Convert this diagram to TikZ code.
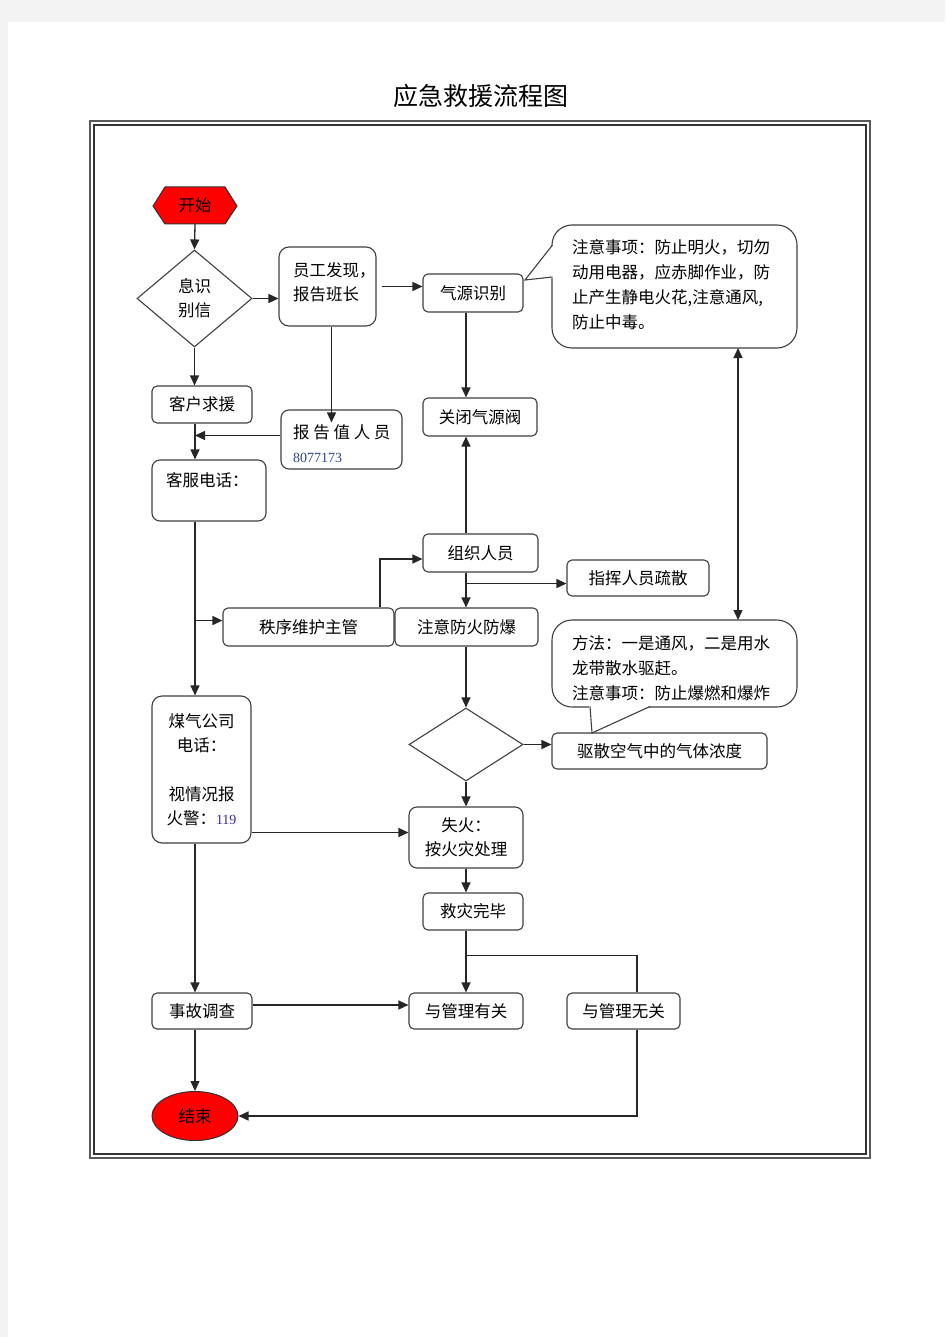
\documentclass[tikz,border=0pt]{standalone}
\usepackage{fontspec}
\setmainfont{Noto Sans CJK SC}
\newfontfamily\numfont{Liberation Serif}
\usetikzlibrary{arrows.meta,calc,shapes.geometric}
\newcommand\boxfont{\fontsize{16.5pt}{24pt}\selectfont}
\newcommand\callfont{\fontsize{16.5pt}{25pt}\selectfont}
\definecolor{numblue}{RGB}{45,70,140}
\definecolor{numpurple}{RGB}{70,40,150}
\definecolor{pagegray}{RGB}{243,243,243}
\begin{document}
\begin{tikzpicture}[x=1pt,y=-1pt,
  line/.style={draw=black!85,line width=1.3pt},
  arr/.style={line,-{Triangle[length=10pt,width=9pt]}},
  dbl/.style={line,{Triangle[length=10pt,width=9pt]}-{Triangle[length=10pt,width=9pt]}},
  box/.style={draw=black!75,line width=1.1pt,rounded corners=5pt,fill=white,inner sep=0pt,align=center,font=\boxfont},
  dia/.style={diamond,draw=black!75,line width=1.1pt,fill=white,inner sep=0pt,align=center,font=\boxfont},
  txt/.style={inner sep=0pt,font=\boxfont,align=left},
  ctxt/.style={inner sep=0pt,font=\callfont,align=left},
  bubble/.style={draw=black!75,line width=1.1pt,fill=white,rounded corners=20pt},
  pointer/.style={draw=black!75,line width=1.1pt}]
\fill[pagegray] (0,0) rectangle (945,1337);
\fill[white] (8,22) rectangle (945,1337);
\useasboundingbox (0,0) rectangle (945,1337);

% title and frame
\node[inner sep=0pt,font=\fontsize{25pt}{30pt}\selectfont] (title) at (481,96) {应急救援流程图};
\draw[black!65,line width=2pt] (90,121) rectangle (870,1158);
\draw[black!80,line width=1.1pt] (94,125) rectangle (866,1154);

% start
\draw[draw=black!80,line width=1pt,fill=red] (153,206) -- (165,187) -- (225,187) -- (237,206) -- (225,224) -- (165,224) -- cycle;
\node[inner sep=0pt,minimum width=84pt,minimum height=37pt,font=\boxfont] (ks) at (195,205.5) {开始};

\node[dia,minimum width=115pt,minimum height=97pt] (d1) at (194.5,298.5) {息识\\别信};

\node[box,rounded corners=10pt,minimum width=97pt,minimum height=79pt] (yg) at (327.5,286.5) {};
\node[txt,anchor=north west] (ygt) at (293,262) {员工发现，\\报告班长};

\node[box,minimum width=100pt,minimum height=38pt] (qy) at (473,293) {气源识别};
\node[box,minimum width=100pt,minimum height=37pt] (kh) at (202,404.5) {客户求援};

\node[box,rounded corners=8pt,minimum width=121pt,minimum height=59pt] (bg) at (341.5,439.5) {};
\node[txt,anchor=north west] (bgt) at (293,424) {报\ 告\ 值\ 人\ 员\\[0pt]{\numfont\fontsize{14pt}{16pt}\selectfont\color{numblue}8077173}};

\node[box,minimum width=114pt,minimum height=38pt] (gb) at (480,417) {关闭气源阀};

\node[box,rounded corners=8pt,minimum width=114pt,minimum height=61pt] (kf) at (209,490.5) {};
\node[txt,anchor=north west] (kft) at (166,472) {客服电话：};

\node[box,minimum width=115pt,minimum height=38pt] (zz) at (480.5,553) {组织人员};
\node[box,minimum width=142pt,minimum height=36pt] (zh) at (638,578) {指挥人员疏散};
\node[box,minimum width=171pt,minimum height=38pt] (zx) at (308.5,627) {秩序维护主管};
\node[box,minimum width=143pt,minimum height=38pt] (zy) at (466.5,627) {注意防火防爆};

\node[dia,minimum width=114pt,minimum height=73pt] (d2) at (466,744.5) {};
\node[box,minimum width=215pt,minimum height=36pt] (qs) at (659.5,751) {驱散空气中的气体浓度};

\node[box,rounded corners=10pt,minimum width=99pt,minimum height=147pt] (mq) at (201.5,769.5) {煤气公司\\电话：\\[25pt]视情况报\\火警：{\numfont\fontsize{14pt}{16pt}\selectfont\color{numpurple}119}};

\node[box,rounded corners=8pt,minimum width=114pt,minimum height=61pt] (sh) at (466,837.5) {失火：\\按火灾处理};
\node[box,minimum width=100pt,minimum height=37pt] (jz) at (473,911.5) {救灾完毕};
\node[box,minimum width=100pt,minimum height=36pt] (sg) at (202,1011) {事故调查};
\node[box,minimum width=114pt,minimum height=36pt] (yy) at (466,1011) {与管理有关};
\node[box,minimum width=113pt,minimum height=36pt] (yw) at (623.5,1011) {与管理无关};

\node[ellipse,draw=black!80,line width=1pt,fill=red,minimum width=86pt,minimum height=49pt,inner sep=0pt,font=\boxfont] (end) at (195,1116) {结束};

% callouts
\draw[bubble] (552,225) rectangle (797,348);
\fill[white] (524,280) -- (554,244) -- (554,278) -- cycle;
\draw[pointer] (552.5,245) -- (525,280) -- (552.5,277);
\node[ctxt,anchor=north west] (ct1) at (572,239) {注意事项：防止明火，切勿\\动用电器，应赤脚作业，防\\止产生静电火花,注意通风,\\防止中毒。};

\draw[bubble] (552,620) rectangle (797,707);
\fill[white] (589,705.5) -- (592,733) -- (651,705.5) -- cycle;
\draw[pointer] (590,706.5) -- (592,733) -- (650,706.5);
\node[ctxt,anchor=north west] (ct2) at (572,635) {方法：一是通风，二是用水\\龙带散水驱赶。\\注意事项：防止爆燃和爆炸};

\coordinate (c1b) at (738,348);
\coordinate (c2t) at (738,620);
\draw[dbl] (c1b) -- (c2t);

% connectors
\draw[arr] (ks.south) -- (d1.north);
\draw[arr] (d1.east) -- (d1.east -| yg.west);
\draw[arr] (d1.south) -- (d1.south |- kh.north);
\draw[arr] ([xshift=5pt]yg.east) -- (yg.east -| qy.west);
\draw[arr,shorten >=-13pt] ([xshift=4pt]yg.south) -- ([xshift=4pt]yg.south |- bg.north);
\coordinate (b0) at ([yshift=4pt]bg.west);
\draw[arr] (b0) -- (b0 -| ks);
\draw[arr] (kh.south -| ks) -- (kf.north -| ks);
\draw[arr] (qy.south -| sh) -- (gb.north -| sh);
\draw[arr] (zz.north -| sh) -- (gb.south -| sh);
\draw[arr] (zz.south -| sh) -- (zy.north -| sh);
\coordinate (b1) at ($(zz.south -| sh)+(0,11)$);
\draw[arr] (b1) -- (b1 -| zh.west);
\draw[arr] ([xshift=71.5pt]zx.north) |- ([yshift=-6pt]zz.west);
\draw[arr] (kf.south -| ks) -- (mq.north -| ks);
\coordinate (b2) at ($(kf.south -| ks)+(0,99)$);
\draw[arr] (b2) -- (b2 -| zx.west);
\draw[arr] (zy.south -| d2) -- (d2.north);
\draw[arr] (d2.east) -- (d2.east -| qs.west);
\draw[arr] (d2.south) -- (sh.north);
\coordinate (s1) at ([yshift=5pt]sh.west);
\draw[arr] (s1 -| mq.east) -- (s1);
\draw[arr] (sh.south) -- (sh.south |- jz.north);
\draw[arr] (jz.south -| sh) -- (yy.north);
\draw[line] ($(jz.south -| sh)+(0,25)$) -| ([xshift=13.5pt]yw.north);
\draw[arr] ([xshift=13.5pt]yw.south) |- (end.east);
\draw[arr] (mq.south -| ks) -- (sg.north -| ks);
\coordinate (s2) at ([yshift=6pt]sg.east);
\draw[arr] (s2) -- (s2 -| yy.west);
\draw[arr] (sg.south -| ks) -- (end.north);
\end{tikzpicture}
\end{document}
